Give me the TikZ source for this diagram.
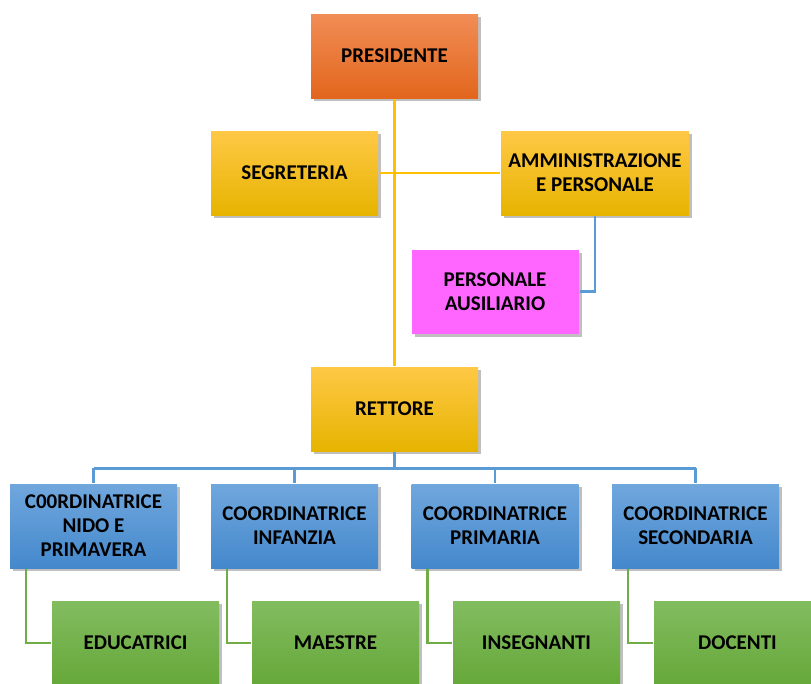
\documentclass[tikz,border=0pt]{standalone}
\usepackage{fontspec}
\setmainfont{Carlito}
\usetikzlibrary{shadows}
\definecolor{orangetop}{HTML}{F18D56}
\definecolor{orangebot}{HTML}{E2661C}
\definecolor{yellowtop}{HTML}{FFC846}
\definecolor{yellowmid}{HTML}{FFC000}
\definecolor{yellowbot}{HTML}{E6B400}
\definecolor{pinkfill}{HTML}{FF66FF}
\definecolor{bluetop}{HTML}{70A7DD}
\definecolor{bluebot}{HTML}{4488CC}
\definecolor{greentop}{HTML}{82BC60}
\definecolor{greenbot}{HTML}{66A839}
\definecolor{yline}{HTML}{FFC000}
\definecolor{bline}{HTML}{5B9BD5}
\definecolor{gline}{HTML}{70AD47}
\begin{document}
\begin{tikzpicture}[x=1pt,y=-1pt,line width=2.5pt,
   box/.style={rectangle,minimum width=167pt,minimum height=84pt,inner sep=2pt,align=center,
     font=\fontsize{21}{24}\selectfont\bfseries,
     drop shadow={shadow xshift=3pt,shadow yshift=-3pt,opacity=.25,fill=black}},
   orangebox/.style={box,top color=orangetop,bottom color=orangebot},
   yellowbox/.style={box,top color=yellowtop,middle color=yellowmid,bottom color=yellowbot},
   pinkbox/.style={box,fill=pinkfill},
   bluebox/.style={box,top color=bluetop,bottom color=bluebot},
   greenbox/.style={box,top color=greentop,bottom color=greenbot},
   yl/.style={draw=yline},
   bl/.style={draw=bline},
   gl/.style={draw=gline}]

   \useasboundingbox (0,0) rectangle (811,683);

     \path (394.5,56) node[orangebox] (1)  {PRESIDENTE};
     \path (294.5,173) node[yellowbox] (2)  {SEGRETERIA};
     \path (595,173) node[yellowbox,minimum width=188pt] (3)  {AMMINISTRAZIONE\\E PERSONALE};
     \path (495,291.5) node[pinkbox] (4)  {PERSONALE\\AUSILIARIO};
     \path (394.5,409) node[yellowbox] (5)  {RETTORE};

     \path (93.5,526) node[bluebox] (6)  {C00RDINATRICE\\NIDO E\\PRIMAVERA};
     \path (294.5,526) node[bluebox] (7)  {COORDINATRICE\\INFANZIA};
     \path (495,526) node[bluebox] (8)  {COORDINATRICE\\PRIMARIA};
     \path (695.5,526) node[bluebox] (9)  {COORDINATRICE\\SECONDARIA};

     \path (135.5,643) node[greenbox] (10)  {EDUCATRICI};
     \path (335.5,643) node[greenbox] (11)  {MAESTRE};
     \path (536.5,643) node[greenbox] (12)  {INSEGNANTI};
     \path (737.5,643) node[greenbox] (13)  {DOCENTI};

      \draw[yl] (1) -- (5);
      \draw[yl] (2) -- (3);
      \draw[bl] (3) |- (4);

      \path (5.south) ++(0,16) coordinate (bus);
      \draw[bl] (5) -- (bus);
      \draw[bl] (bus -| 6.north) -- (bus -| 9.north);
      \draw[bl] (bus -| 6.north) -- (6);
      \draw[bl] (bus -| 7.north) -- (7);
      \draw[bl] (bus -| 8.north) -- (8);
      \draw[bl] (bus -| 9.north) -- (9);

      \draw[gl] ([xshift=17pt]6.south west) |- (10);
      \draw[gl] ([xshift=17pt]7.south west) |- (11);
      \draw[gl] ([xshift=17pt]8.south west) |- (12);
      \draw[gl] ([xshift=17pt]9.south west) |- (13);

   \end{tikzpicture}
\end{document}
